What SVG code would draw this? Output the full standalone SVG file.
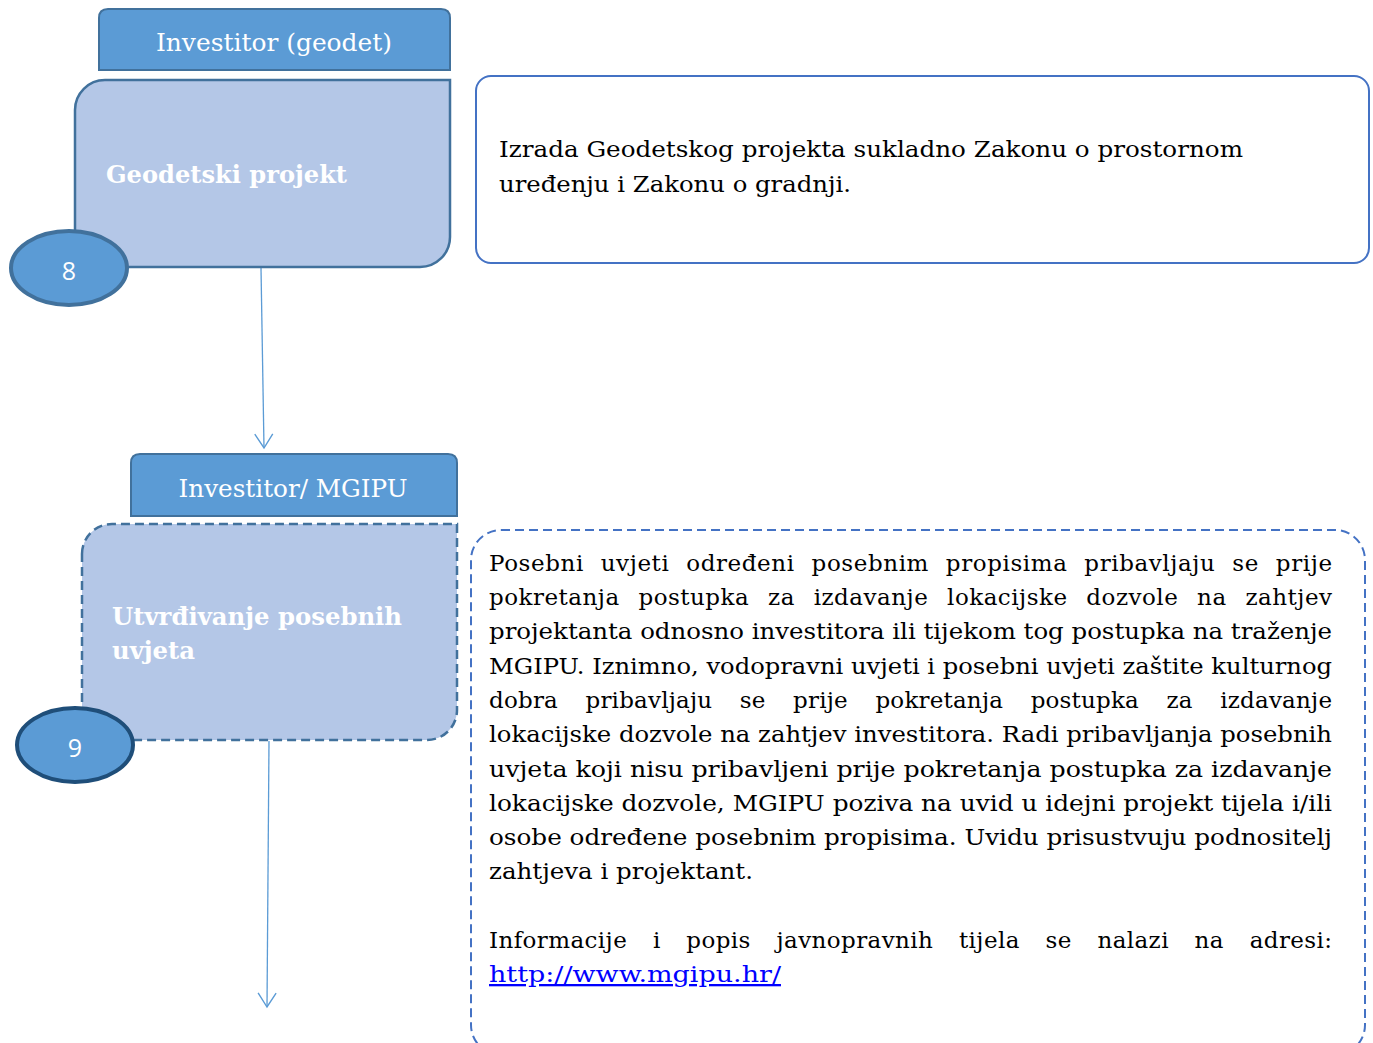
<svg xmlns="http://www.w3.org/2000/svg" width="1373" height="1043" viewBox="0 0 1373 1043">
<defs>
<style>
.hdr{fill:#5B9BD5;stroke:#41719C;stroke-width:2}
.main{fill:#B4C7E7;stroke:#41719C;stroke-width:2.5}
.dash{stroke-dasharray:9,5}
.hdrt{font-family:"DejaVu Serif","Liberation Serif",serif;font-size:24px;fill:#fff}
.maint{font-family:"DejaVu Serif","Liberation Serif",serif;font-size:24px;font-weight:bold;fill:#fff}
.num{font-family:"Open Sans","Liberation Sans",sans-serif;font-size:25px;fill:#fff}
.body{font-family:"DejaVu Serif","Liberation Serif",serif;font-size:23px;fill:#000}
.desc{fill:#fff;stroke:#4472C4;stroke-width:2}
.conn{stroke:#5B9BD5;stroke-width:1.3;fill:none}
</style>
<marker id="arr" viewBox="0 0 20 20" refX="18" refY="10" markerWidth="20" markerHeight="20" markerUnits="userSpaceOnUse" orient="auto">
<path d="M4,1 L18,10 L4,19" fill="none" stroke="#5B9BD5" stroke-width="1.4"/>
</marker>
</defs>
<rect width="1373" height="1043" fill="#fff"/>

<g id="connectors">
<path class="conn" d="M261,268 L264,448" marker-end="url(#arr)"/>
<path class="conn" d="M269,741 L267,1007" marker-end="url(#arr)"/>
</g>

<g id="node8">
<path class="hdr" d="M99,70 V18 Q99,9 108,9 H441 Q450,9 450,18 V70 Z"/>
<text class="hdrt" x="274" y="51" text-anchor="middle" textLength="236" lengthAdjust="spacingAndGlyphs">Investitor (geodet)</text>
<path class="main" d="M75,110 A30,30 0 0 1 105,80 H450 V237 A30,30 0 0 1 420,267 H75 Z"/>
<text class="maint" x="106" y="183" textLength="241" lengthAdjust="spacingAndGlyphs">Geodetski projekt</text>
<ellipse cx="69" cy="268" rx="58" ry="37" fill="#5B9BD5" stroke="#41719C" stroke-width="4"/>
<text class="num" x="69" y="280" text-anchor="middle">8</text>
</g>

<g id="desc8">
<rect class="desc" x="476" y="76" width="893" height="187" rx="15"/>
<text class="body" x="499" y="157" textLength="744" lengthAdjust="spacingAndGlyphs">Izrada Geodetskog projekta sukladno Zakonu o prostornom</text>
<text class="body" x="499" y="192" textLength="352" lengthAdjust="spacingAndGlyphs">uređenju i Zakonu o gradnji.</text>
</g>

<g id="node9">
<path class="hdr" d="M131,516 V463 Q131,454 140,454 H448 Q457,454 457,463 V516 Z"/>
<text class="hdrt" x="293" y="497" text-anchor="middle" textLength="229" lengthAdjust="spacingAndGlyphs">Investitor/ MGIPU</text>
<path class="main dash" d="M82,554 A30,30 0 0 1 112,524 H457 V710 A30,30 0 0 1 427,740 H82 Z"/>
<text class="maint" x="112" y="625" textLength="290" lengthAdjust="spacingAndGlyphs">Utvrđivanje posebnih</text>
<text class="maint" x="112" y="659" textLength="83" lengthAdjust="spacingAndGlyphs">uvjeta</text>
<ellipse cx="75" cy="745" rx="58" ry="37" fill="#5B9BD5" stroke="#1F4E79" stroke-width="4"/>
<text class="num" x="75" y="757" text-anchor="middle">9</text>
</g>

<g id="desc9">
<rect class="desc dash" x="471" y="530" width="894" height="525" rx="30"/>
<text class="body" x="489" y="571" style="word-spacing:9px" textLength="843" lengthAdjust="spacing">Posebni uvjeti određeni posebnim propisima pribavljaju se prije</text>
<text class="body" x="489" y="605" style="word-spacing:11px" textLength="843" lengthAdjust="spacing">pokretanja postupka za izdavanje lokacijske dozvole na zahtjev</text>
<text class="body" x="489" y="639" textLength="843" lengthAdjust="spacingAndGlyphs">projektanta odnosno investitora ili tijekom tog postupka na traženje</text>
<text class="body" x="489" y="674" textLength="843" lengthAdjust="spacingAndGlyphs">MGIPU. Iznimno, vodopravni uvjeti i posebni uvjeti zaštite kulturnog</text>
<text class="body" x="489" y="708" style="word-spacing:20px" textLength="843" lengthAdjust="spacing">dobra pribavljaju se prije pokretanja postupka za izdavanje</text>
<text class="body" x="489" y="742" textLength="843" lengthAdjust="spacingAndGlyphs">lokacijske dozvole na zahtjev investitora. Radi pribavljanja posebnih</text>
<text class="body" x="489" y="777" textLength="843" lengthAdjust="spacingAndGlyphs">uvjeta koji nisu pribavljeni prije pokretanja postupka za izdavanje</text>
<text class="body" x="489" y="811" textLength="843" lengthAdjust="spacingAndGlyphs">lokacijske dozvole, MGIPU poziva na uvid u idejni projekt tijela i/ili</text>
<text class="body" x="489" y="845" textLength="843" lengthAdjust="spacingAndGlyphs">osobe određene posebnim propisima. Uvidu prisustvuju podnositelj</text>
<text class="body" x="489" y="879" textLength="264" lengthAdjust="spacingAndGlyphs">zahtjeva i projektant.</text>
<text class="body" x="489" y="948" style="word-spacing:18px" textLength="843" lengthAdjust="spacing">Informacije i popis javnopravnih tijela se nalazi na adresi:</text>
<text class="body" x="489" y="982" textLength="292" lengthAdjust="spacingAndGlyphs" style="fill:#0000FF" text-decoration="underline">http://www.mgipu.hr/</text>
</g>
</svg>
